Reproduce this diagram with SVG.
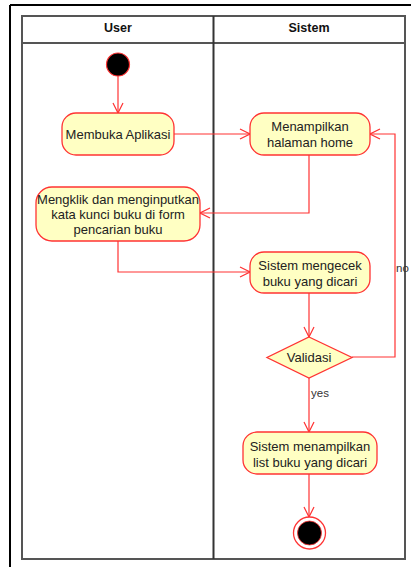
<svg xmlns="http://www.w3.org/2000/svg" width="411" height="567" viewBox="0 0 411 567">
  <style>
    .lane { fill: none; stroke: #555555; stroke-width: 2; }
    .head { font-family: "Liberation Sans", Arial, sans-serif; font-size: 12.5px; font-weight: bold; fill: #111111; text-anchor: middle; }
    .act { fill: #FFFFC3; stroke: #FF3333; stroke-width: 1.3; }
    .lbl { font-family: "Liberation Sans", Arial, sans-serif; font-size: 13px; fill: #222222; text-anchor: middle; }
    .edge { fill: none; stroke: #FF3333; stroke-width: 1.2; }
    .guard { font-family: "Liberation Sans", Arial, sans-serif; font-size: 11.5px; fill: #333333; }
  </style>
  <defs>
    <marker id="open" viewBox="0 0 12 12" refX="11" refY="6" markerWidth="12" markerHeight="12" markerUnits="userSpaceOnUse" orient="auto">
      <path d="M1,1 L11,6 L1,11" fill="none" stroke="#FF3333" stroke-width="1.2"/>
    </marker>
  </defs>
  <rect width="411" height="567" fill="#ffffff"/>

  <!-- page frame -->
  <g id="frame">
    <line x1="10" y1="5" x2="411" y2="5" stroke="#000000" stroke-width="2"/>
    <line x1="10" y1="5" x2="10" y2="567" stroke="#000000" stroke-width="2"/>
  </g>

  <!-- swimlanes -->
  <g id="lanes">
    <rect class="lane" x="22" y="16" width="383" height="543"/>
    <line class="lane" x1="22" y1="43" x2="405" y2="43"/>
    <line x1="213.5" y1="16" x2="213.5" y2="559" stroke="#333333" stroke-width="2"/>
    <text class="head" x="118" y="32">User</text>
    <text class="head" x="309" y="32">Sistem</text>
  </g>

  <!-- connectors -->
  <g id="edges">
    <line class="edge" x1="118" y1="76" x2="118" y2="113" marker-end="url(#open)"/>
    <line class="edge" x1="174" y1="134" x2="250" y2="134" marker-end="url(#open)"/>
    <polyline class="edge" points="309,155 309,213 200,213" marker-end="url(#open)"/>
    <polyline class="edge" points="118,241 118,272 250,272" marker-end="url(#open)"/>
    <line class="edge" x1="309" y1="293" x2="309" y2="337" marker-end="url(#open)"/>
    <polyline class="edge" points="352,357 395,357 395,134 370,134" marker-end="url(#open)"/>
    <line class="edge" x1="309" y1="378" x2="309" y2="432" marker-end="url(#open)"/>
    <line class="edge" x1="309" y1="474" x2="309" y2="517" marker-end="url(#open)"/>
    <text class="guard" x="396" y="272">no</text>
    <text class="guard" x="311" y="397">yes</text>
  </g>

  <g id="start">
    <circle cx="118" cy="64.5" r="11.5" fill="#000000" stroke="#FF3333" stroke-width="1.2"/>
  </g>

  <g id="membuka">
    <rect class="act" x="62" y="113" width="112" height="42" rx="14"/>
    <text class="lbl" x="118" y="138.5">Membuka Aplikasi</text>
  </g>

  <g id="menampilkan-home">
    <rect class="act" x="250" y="113" width="120" height="42" rx="14"/>
    <text class="lbl" x="310" y="130.5">Menampilkan</text>
    <text class="lbl" x="310" y="146.5">halaman home</text>
  </g>

  <g id="mengklik">
    <rect class="act" x="36" y="187" width="164" height="54" rx="16"/>
    <text class="lbl" x="118" y="203.5">Mengklik dan menginputkan</text>
    <text class="lbl" x="118" y="218.5">kata kunci buku di form</text>
    <text class="lbl" x="118" y="233.5">pencarian buku</text>
  </g>

  <g id="mengecek">
    <rect class="act" x="250" y="252" width="120" height="41" rx="14"/>
    <text class="lbl" x="310" y="269.5">Sistem mengecek</text>
    <text class="lbl" x="310" y="285.5">buku yang dicari</text>
  </g>

  <g id="validasi">
    <polygon class="act" points="309,337 352,357.5 309,378 267,357.5"/>
    <text class="lbl" x="309" y="362">Validasi</text>
  </g>

  <g id="menampilkan-list">
    <rect class="act" x="243" y="432" width="134" height="42" rx="14"/>
    <text class="lbl" x="310" y="450.5">Sistem menampilkan</text>
    <text class="lbl" x="310" y="466.5">list buku yang dicari</text>
  </g>

  <g id="end">
    <circle cx="309.5" cy="533" r="16" fill="#ffffff" stroke="#FF3333" stroke-width="1.3"/>
    <circle cx="309.5" cy="533" r="12" fill="#000000" stroke="#FF3333" stroke-width="0.8"/>
  </g>
</svg>
